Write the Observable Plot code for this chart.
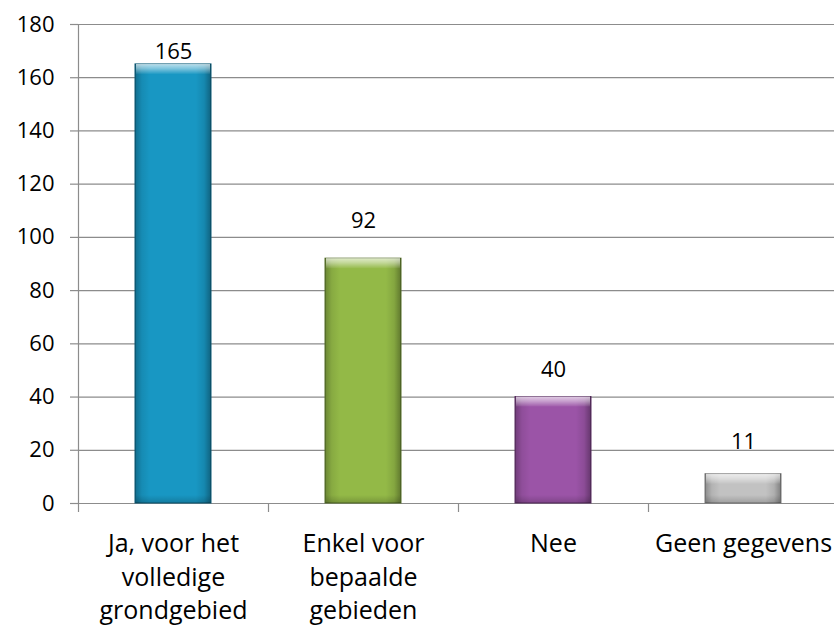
<!DOCTYPE html>
<html>
<head>
<meta charset="utf-8">
<script src="https://cdn.jsdelivr.net/npm/d3@7"></script>
<script src="https://cdn.jsdelivr.net/npm/@observablehq/plot@0.6"></script>
<style>
  html, body { margin: 0; padding: 0; background: #fff; overflow: hidden; }
  #chart { width: 834px; height: 627px; overflow: hidden; }
</style>
</head>
<body>
<div id="chart"></div>
<script>
// ---- Data ----
const categories = ["Ja, voor het\nvolledige\ngrondgebied", "Enkel voor\nbepaalde\ngebieden", "Nee", "Geen gegevens"];
const values = [165, 92, 40, 11];
const barColors = ["#1897c3", "#93b947", "#9b54a7", "#c2c2c2"];
const edgeColors = ["#0d5a76", "#56702a", "#5b2f63", "#7a7a7a"];
const yTicks = [0, 20, 40, 60, 80, 100, 120, 140, 160, 180];

const data = categories.map((c, i) => ({cat: c, value: values[i], color: barColors[i], edge: edgeColors[i]}));

// ---- Layout ----
const W = 834, H = 627;
const mL = 78, mR = -4, mT = 24, mB = 124;
const step = (W - mL - mR) / categories.length;
const FONT = "'Open Sans', 'Liberation Sans', sans-serif";
const labelOffsets = [-12, -38, -27, -32]; // data-label vertical nudges (px)

const gridColor = "#8c8c8c";

const marks = [
  Plot.ruleY(yTicks, {stroke: gridColor, strokeWidth: 1.2}),
  Plot.axisY(yTicks, {tickSize: 8, tickPadding: 16, stroke: gridColor, strokeWidth: 1.2, fontSize: 22, fill: "#000", label: null}),
  Plot.ruleX([categories[0]], {dx: -step / 2, y1: 0, y2: 180, stroke: gridColor, strokeWidth: 1.2}),
  Plot.axisX(categories, {tickSize: 9, dx: -step / 2, tickFormat: () => "", stroke: gridColor, strokeWidth: 1.2, label: null}),
  Plot.axisX(categories, {tickSize: 0, tickPadding: 25, lineAnchor: "top", lineHeight: 1.34, fontSize: 25, fill: "#000", label: null}),
  Plot.barY(data, {x: "cat", y: "value", fill: "color", stroke: "edge", strokeWidth: 1}),
  Plot.barY(data, {x: "cat", y: "value", fill: "url(#sideShade)"}),
  Plot.barY(data, {x: "cat", y1: "value", y2: "value", insetBottom: -10, insetLeft: 1, insetRight: 1, fill: "url(#topShine)"}),
  Plot.barY(data, {x: "cat", y1: 0, y2: 0, insetTop: -8, insetLeft: 1, insetRight: 1, fill: "url(#bottomShade)"}),
];

data.forEach((d, i) => {
  marks.push(Plot.text([d], {x: "cat", y: "value", text: d => String(d.value), dy: labelOffsets[i], fontSize: 22, fill: "#000", lineAnchor: "middle"}));
});

const chart = Plot.plot({
  width: W,
  height: H,
  marginLeft: mL,
  marginRight: mR,
  marginTop: mT,
  marginBottom: mB,
  style: {fontFamily: FONT, background: "#fff", overflow: "visible"},
  x: {domain: categories, paddingInner: 0.6, paddingOuter: 0.3, axis: null, label: null},
  y: {domain: [0, 180], axis: null, label: null},
  marks
});

const svgEl = chart.tagName.toLowerCase() === "svg" ? chart : chart.querySelector("svg");
const svg = d3.select(svgEl);
const defs = svg.insert("defs", ":first-child");
const sideG = defs.append("linearGradient").attr("id", "sideShade").attr("x1", 0).attr("x2", 1).attr("y1", 0).attr("y2", 0);
[[0, 0.28], [0.09, 0.08], [0.2, 0], [0.8, 0], [0.91, 0.1], [1, 0.35]].forEach(([o, a]) =>
  sideG.append("stop").attr("offset", o).attr("stop-color", "#000").attr("stop-opacity", a));
const topG = defs.append("linearGradient").attr("id", "topShine").attr("x1", 0).attr("x2", 0).attr("y1", 0).attr("y2", 1);
[[0, 0.7], [0.45, 0.45], [1, 0.05]].forEach(([o, a]) =>
  topG.append("stop").attr("offset", o).attr("stop-color", "#fff").attr("stop-opacity", a));
const botG = defs.append("linearGradient").attr("id", "bottomShade").attr("x1", 0).attr("x2", 0).attr("y1", 0).attr("y2", 1);
[[0, 0.0], [1, 0.18]].forEach(([o, a]) =>
  botG.append("stop").attr("offset", o).attr("stop-color", "#000").attr("stop-opacity", a));

document.getElementById("chart").appendChild(chart);
</script>
</body>
</html>
